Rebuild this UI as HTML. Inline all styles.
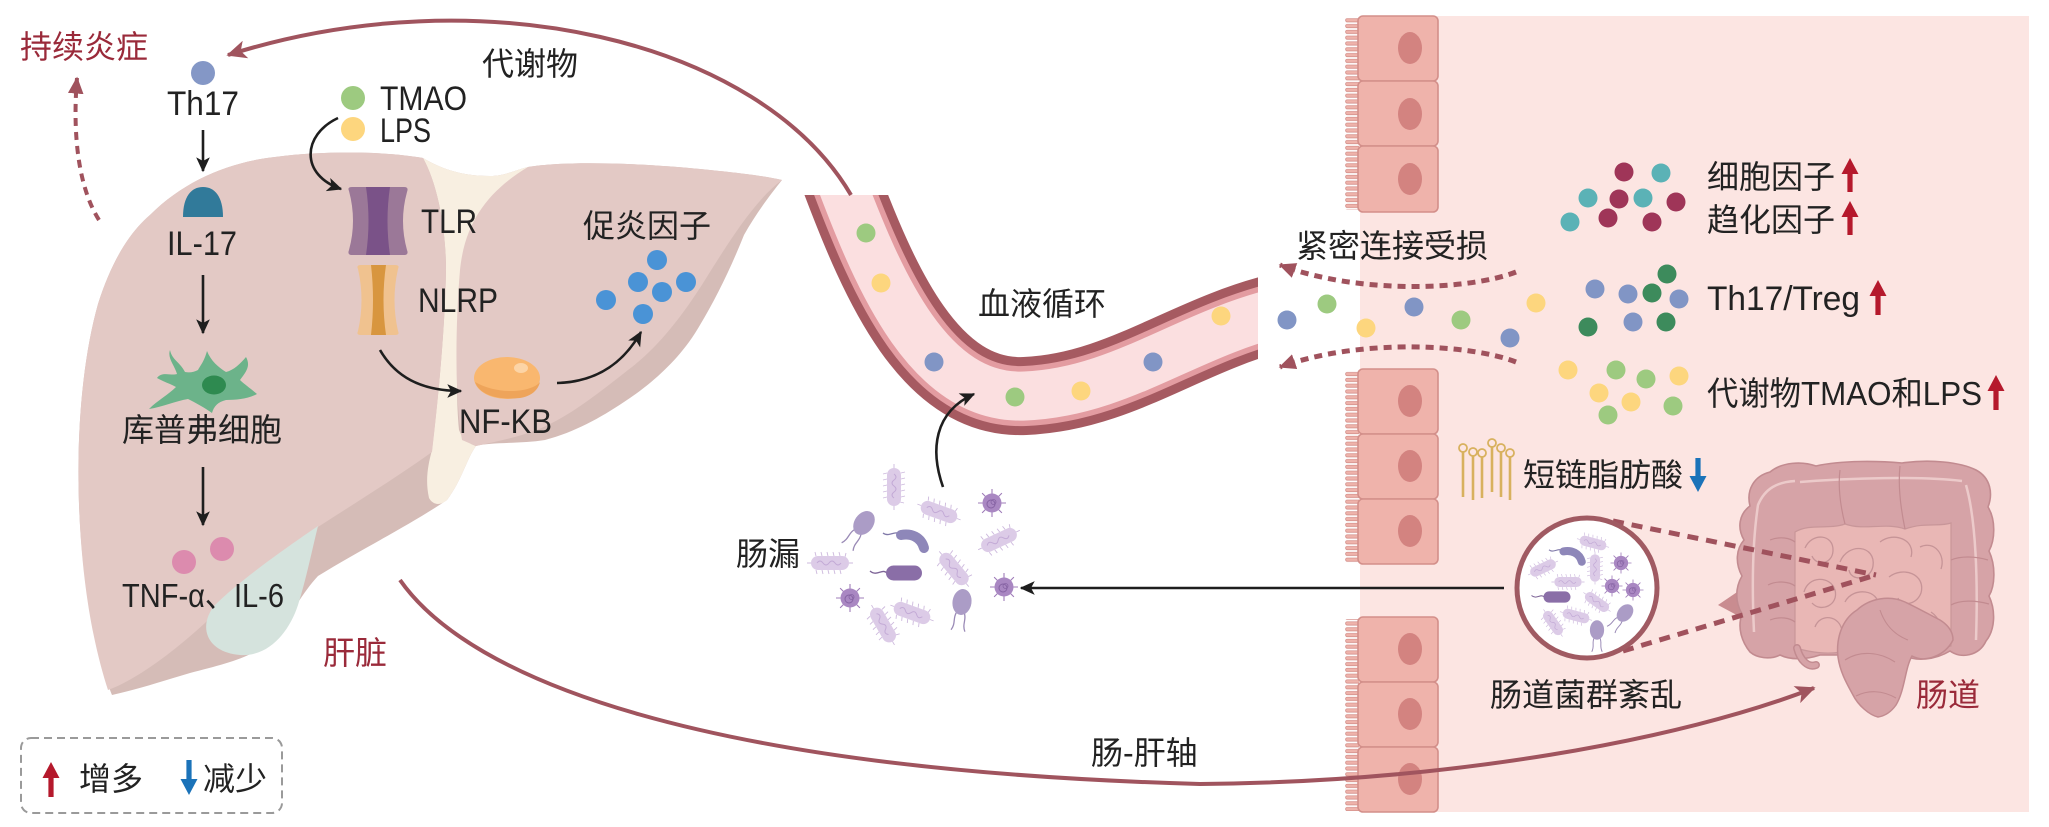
<!DOCTYPE html>
<html><head><meta charset="utf-8"><style>
html,body{margin:0;padding:0;background:#fff;}
svg{display:block;}
text{font-family:"Liberation Sans","Noto Sans CJK SC",sans-serif;fill:#222;}
</style></head><body>
<svg width="2049" height="827" viewBox="0 0 2049 827" xmlns="http://www.w3.org/2000/svg">
<defs>
<marker id="mk" viewBox="0 0 12 12" refX="11" refY="6" markerWidth="15" markerHeight="15" markerUnits="userSpaceOnUse" orient="auto"><path d="M0,0.5 L12,6 L0,11.5 L3,6 Z" fill="#1e1e1e"/></marker>
<marker id="mr" viewBox="0 0 12 12" refX="11" refY="6" markerWidth="20" markerHeight="20" markerUnits="userSpaceOnUse" orient="auto"><path d="M0,0.5 L12,6 L0,11.5 L3,6 Z" fill="#a0545e"/></marker>
<marker id="md" viewBox="0 0 12 12" refX="11" refY="6" markerWidth="17" markerHeight="17" markerUnits="userSpaceOnUse" orient="auto"><path d="M0,0.5 L12,6 L0,11.5 Z" fill="#a0525d"/></marker>
<pattern id="vil" x="1345" y="0" width="16" height="5.8" patternUnits="userSpaceOnUse"><rect x="0.6" y="1.2" width="16" height="3.3" rx="1.6" fill="#efb3ab" stroke="#d38f8a" stroke-width="0.8"/></pattern>
<g id="rod">
<g stroke="#cdb9dd" stroke-width="0.9"><path d="M-14,-7 l-1,-4 M-8,-7 l-1,-4 M-2,-7 l-1,-4 M4,-7 l-1,-4 M10,-7 l-1,-4 M15,-6 l1,-4 M-14,7 l1,4 M-8,7 l1,4 M-2,7 l1,4 M4,7 l1,4 M10,7 l1,4 M-19,0 l-4,0 M19,0 l4,0"/></g>
<rect x="-19" y="-7" width="38" height="14" rx="7" fill="#dccbe7"/>
<path d="M-13,0 q3,-4 6,0 t6,0 t6,0 t6,0" stroke="#c3aad6" fill="none" stroke-width="1"/>
</g>
<g id="coc">
<g stroke="#9f7cb9" stroke-width="1.1"><path d="M0,-9 l0,-5 M0,9 l0,5 M-9,0 l-5,0 M9,0 l5,0 M6.4,6.4 l3.5,3.5 M-6.4,-6.4 l-3.5,-3.5 M6.4,-6.4 l3.5,-3.5 M-6.4,6.4 l-3.5,3.5"/></g>
<circle r="9.5" fill="#a987c2"/><circle r="4" cx="-1" cy="1" fill="none" stroke="#8663a3" stroke-width="1"/><circle r="2.5" cx="1.5" cy="-1" fill="none" stroke="#8663a3" stroke-width="0.8"/>
</g>
<g id="drod"><path d="M-17,0 C-22,-5 -27,4 -34,-2" stroke="#7d6497" fill="none" stroke-width="1.4"/><rect x="-18" y="-7.5" width="36" height="15" rx="7.5" fill="#8a6ea7"/></g>
<g id="crod"><path d="M-12,-7 C-18,-13 -24,-4 -30,-9" stroke="#7f78a8" fill="none" stroke-width="1.3"/><path d="M-12,-7 C-2,-9 8,-5 11,6" stroke="#8e87b9" stroke-width="10" stroke-linecap="round" fill="none"/></g>
<g id="ov"><path d="M-4,11 C-7,17 -3,22 -7,29 M4,11 C7,17 3,22 7,29" stroke="#9a8ab6" fill="none" stroke-width="1.3"/><ellipse rx="9.5" ry="13" fill="#ab9cc6"/></g>
<clipPath id="vclip"><rect x="760" y="195" width="498" height="270"/></clipPath>
</defs>

<!-- intestine panel -->
<rect x="1360" y="16" width="669" height="796" fill="#fce5e2"/>

<!-- epithelial cells -->
<g>
<rect x="1345" y="18" width="14" height="192" fill="url(#vil)"/>
<rect x="1345" y="371" width="14" height="192" fill="url(#vil)"/>
<rect x="1345" y="619" width="14" height="192" fill="url(#vil)"/>
<g fill="#efb3ab" stroke="#d38f8a" stroke-width="1.6">
<rect x="1358" y="16" width="80" height="65" rx="5"/>
<rect x="1358" y="81" width="80" height="65" rx="5"/>
<rect x="1358" y="146" width="80" height="66" rx="5"/>
<rect x="1358" y="369" width="80" height="65" rx="5"/>
<rect x="1358" y="434" width="80" height="65" rx="5"/>
<rect x="1358" y="499" width="80" height="65" rx="5"/>
<rect x="1358" y="617" width="80" height="65" rx="5"/>
<rect x="1358" y="682" width="80" height="65" rx="5"/>
<rect x="1358" y="747" width="80" height="65" rx="5"/>
</g>
<g fill="#d38380">
<ellipse cx="1410" cy="48" rx="12" ry="16"/>
<ellipse cx="1410" cy="114" rx="12" ry="16"/>
<ellipse cx="1410" cy="179" rx="12" ry="16"/>
<ellipse cx="1410" cy="401" rx="12" ry="16"/>
<ellipse cx="1410" cy="466" rx="12" ry="16"/>
<ellipse cx="1410" cy="531" rx="12" ry="16"/>
<ellipse cx="1410" cy="649" rx="12" ry="16"/>
<ellipse cx="1410" cy="714" rx="12" ry="16"/>
<ellipse cx="1410" cy="779" rx="12" ry="16"/>
</g>
</g>

<!-- liver -->
<g>
<path d="M112,695 C98,660 82,590 79,504 C76,420 85,350 98,304 C112,260 130,232 150,215 C185,180 230,162 275,157 C330,150 390,152 423,158 C440,168 460,176 490,176 C505,176 515,170 528,167 C570,160 650,164 700,169 C740,173 765,176 782,180 C770,195 755,215 744,235 C730,270 715,300 700,325 C680,360 650,385 624,402 C600,418 575,432 545,440 C520,444 490,442 476,446 C467,458 462,480 447,500 C410,525 360,550 318,576 C300,595 290,620 265,645 C245,660 220,665 190,673 C160,682 135,690 112,695 Z" fill="#d5bcb7"/>
<path d="M423,158 C440,168 460,176 490,176 C505,176 515,170 528,167 L532,172 C495,192 472,218 464,262 C457,320 455,390 459,430 C463,440 470,444 476,446 C467,458 462,480 447,500 C440,506 433,505 429,498 C425,480 428,465 432,450 C438,400 445,330 446,270 C446,230 438,185 423,158 Z" fill="#f8efe1"/>
<path d="M108,690 C95,650 82,590 79,504 C76,420 85,350 98,304 C112,260 130,232 150,215 C185,180 230,162 275,157 C330,150 390,152 423,158 C438,185 446,230 446,270 C445,330 438,400 432,452 C400,475 360,500 318,527 C280,552 240,585 205,623 C170,655 135,680 108,690 Z" fill="#e3c9c5"/>
<path d="M528,167 C570,160 650,164 700,169 C740,173 765,176 782,180 C755,200 730,240 705,280 C680,320 655,350 628,370 C600,392 575,412 548,425 C530,434 505,440 476,446 L462,440 C455,400 455,330 460,270 C465,220 490,190 528,167 Z" fill="#e3c9c5"/>
<path d="M318,526 C290,545 240,580 215,605 C198,625 205,652 240,655 C270,657 290,630 298,605 C306,580 312,550 318,526 Z" fill="#d5e3dd"/>
</g>

<!-- liver contents -->
<circle cx="203" cy="73" r="12" fill="#8497c6"/>
<path d="M183,217 C183,197 191,187 203,187 C215,187 223,197 223,217 Z" fill="#317a9a"/>
<path d="M185,372 C180,362 172,360 170,350 C167,358 175,366 177,374 C171,376 162,371 157,378 C164,382 171,384 176,387 C168,395 158,400 149,409 C162,407 176,401 188,399 C196,403 205,408 212,413 C214,406 218,402 226,400 C236,400 248,399 257,394 C250,388 244,384 240,380 C246,372 251,366 246,357 C240,364 234,370 226,372 C218,367 211,361 207,351 C204,362 200,366 198,370 C194,372 190,373 185,372 Z" fill="#6cb38a"/>
<ellipse cx="214" cy="385" rx="12" ry="9.5" fill="#2e8a50"/>
<circle cx="184" cy="562" r="12" fill="#dc8bae"/>
<circle cx="222" cy="549" r="12" fill="#dc8bae"/>
<circle cx="353" cy="98" r="12" fill="#9dca80"/>
<circle cx="353" cy="129" r="12" fill="#fdd67e"/>
<path d="M349,191 Q347,187 352,187 L404,187 Q409,187 407,192 Q399,221 407,250 Q409,255 404,255 L352,255 Q347,255 349,250 Q357,221 349,191 Z" fill="#9b7898"/>
<path d="M366,187 L390,187 Q385,221 390,255 L366,255 Q371,221 366,187 Z" fill="#7a5288"/>
<path d="M358,269 Q356,265 361,265 L395,265 Q400,265 398,269 Q391,300 398,331 Q400,335 395,335 L361,335 Q356,335 358,331 Q365,300 358,269 Z" fill="#f0c28f"/>
<path d="M371,265 L386,265 Q381,300 386,335 L371,335 Q375,300 371,265 Z" fill="#d8963f"/>
<ellipse cx="507" cy="378" rx="33" ry="21" fill="#f9b76f"/>
<path d="M475,382 C480,396 500,400 520,398 C532,396 538,390 540,382 C532,392 500,396 475,382 Z" fill="#eea45a"/>
<ellipse cx="521" cy="368" rx="7" ry="5" fill="#fcd4a6"/>
<g fill="#4a93d6">
<circle cx="657" cy="260" r="10"/><circle cx="638" cy="282" r="10"/><circle cx="686" cy="282" r="10"/><circle cx="662" cy="292" r="10"/><circle cx="606" cy="300" r="10"/><circle cx="643" cy="314" r="10"/>
</g>

<!-- liver arrows -->
<g stroke="#1e1e1e" stroke-width="2.6" fill="none" marker-end="url(#mk)">
<path d="M203,130 L203,171"/>
<path d="M203,275 L203,333"/>
<path d="M203,467 L203,525"/>
<path d="M338,118 C302,135 300,175 341,189"/>
<path d="M380,350 C395,376 420,391 461,391"/>
<path d="M557,383 C600,382 625,360 641,332"/>
<path d="M1504,588 L1021,588"/>
</g>

<!-- gut -->
<g>
<path d="M1718,605 L1746,586 L1746,620 Z" fill="#c98c90"/>
<path d="M1750,652 C1742,642 1737,628 1742,614 C1735,602 1735,588 1742,576 C1735,563 1736,549 1744,540 C1737,528 1739,514 1750,506 C1746,490 1754,476 1770,472 C1782,462 1802,461 1816,466 C1842,460 1880,461 1902,463 C1930,459 1960,462 1976,470 C1991,478 1993,494 1988,507 C1996,520 1995,540 1989,551 C1996,566 1995,586 1989,596 C1996,611 1995,630 1986,641 C1979,656 1961,659 1950,651 C1935,660 1915,662 1905,655 L1820,655 C1805,660 1790,660 1780,655 C1770,660 1757,658 1750,652 Z" fill="#d6a3a7" stroke="#c28b90" stroke-width="1.6"/>
<path d="M1795,648 L1795,532 C1810,523 1828,530 1845,524 C1865,531 1885,522 1905,529 C1925,522 1940,527 1951,523 L1951,646 C1935,650 1915,650 1905,646 L1850,650 C1830,656 1810,652 1795,648 Z" fill="#e9b7b5" stroke="#c89699" stroke-width="1.2"/>
<g fill="none" stroke="#c69497" stroke-width="1.3">
<path d="M1805,548 C1812,532 1834,534 1833,551 C1832,565 1816,566 1812,556"/>
<path d="M1840,562 C1848,542 1876,545 1873,566 C1871,580 1851,582 1849,570"/>
<path d="M1880,542 C1894,531 1916,540 1911,557"/>
<path d="M1804,592 C1808,576 1830,575 1835,590 C1839,605 1821,613 1812,603"/>
<path d="M1845,602 C1853,586 1880,590 1878,606"/>
<path d="M1889,577 C1903,566 1926,574 1921,593 C1916,606 1901,606 1898,598"/>
<path d="M1920,547 C1934,540 1946,555 1941,569"/>
<path d="M1815,627 C1820,613 1840,615 1842,631"/>
<path d="M1931,612 C1940,618 1944,630 1938,640"/>
</g>
<g fill="none" stroke="#eccaca" stroke-width="2.5">
<path d="M1754,632 C1752,590 1752,545 1758,505 C1765,488 1778,482 1795,481"/>
<path d="M1800,482 C1850,478 1920,476 1962,481"/>
<path d="M1966,485 C1976,520 1978,580 1976,640"/>
</g>
<g fill="none" stroke="#c28b90" stroke-width="1.2">
<path d="M1770,540 C1780,536 1790,538 1795,542 M1768,585 C1778,580 1790,582 1795,586 M1770,620 C1780,616 1790,618 1795,622"/>
<path d="M1840,470 C1838,485 1840,505 1845,524 M1900,466 C1898,485 1900,505 1905,529"/>
<path d="M1951,560 C1960,556 1975,556 1988,560 M1951,605 C1960,600 1975,600 1989,604"/>
</g>
<path d="M1797,648 C1800,660 1808,668 1816,665" fill="none" stroke="#c28b90" stroke-width="8" stroke-linecap="round"/>
<path d="M1797,648 C1800,660 1808,668 1816,665" fill="none" stroke="#d6a3a7" stroke-width="5" stroke-linecap="round"/>
<path d="M1953,640 C1945,656 1925,663 1912,656 C1905,668 1905,690 1896,705 C1891,712 1885,716 1878,717 C1869,715 1858,705 1853,695 C1847,684 1840,672 1838,657 C1836,640 1841,620 1857,610 C1870,598 1890,595 1905,602 C1918,608 1930,615 1940,620 C1948,625 1953,632 1953,640 Z" fill="#d6a3a7" stroke="#c28b90" stroke-width="1.5"/>
<path d="M1845,660 C1860,650 1880,652 1895,662 M1856,696 C1868,690 1882,690 1896,698 M1880,610 C1885,625 1895,635 1908,640" fill="none" stroke="#c28b90" stroke-width="1.1"/>
</g>

<!-- SCFA icon -->
<g stroke="#d8b15e" stroke-width="2.6" fill="none">
<path d="M1463,452 L1463,497 M1473,456 L1473,500 M1482,457 L1482,498 M1492,447 L1492,492 M1501,452 L1501,497 M1510,457 L1510,500"/>
<g stroke-width="1.8" fill="#fce5e2"><circle cx="1463" cy="448" r="4"/><circle cx="1473" cy="452" r="4"/><circle cx="1482" cy="453" r="4"/><circle cx="1492" cy="443" r="4"/><circle cx="1501" cy="448" r="4"/><circle cx="1510" cy="453" r="4"/></g>
</g>

<!-- dashed lines to gut -->
<g stroke="#a0525d" stroke-width="5" stroke-dasharray="11 8" fill="none">
<path d="M1613,521 L1876,575"/>
<path d="M1623,651 L1876,575"/>
</g>

<!-- microbiota circle -->
<circle cx="1587" cy="588" r="70" fill="#fff" stroke="#a05a62" stroke-width="5"/>
<use href="#rod" transform="translate(1593,543) rotate(15) scale(0.72)"/>
<use href="#crod" transform="translate(1573,557) scale(0.8)"/>
<use href="#rod" transform="translate(1543,568) rotate(-25) scale(0.72)"/>
<use href="#rod" transform="translate(1595,568) rotate(90) scale(0.72)"/>
<use href="#coc" transform="translate(1621,563) scale(0.75)"/>
<use href="#rod" transform="translate(1568,582) scale(0.72)"/>
<use href="#coc" transform="translate(1612,586) scale(0.75)"/>
<use href="#coc" transform="translate(1633,590) scale(0.75)"/>
<use href="#drod" transform="translate(1557,597) scale(0.75)"/>
<use href="#rod" transform="translate(1597,602) rotate(35) scale(0.72)"/>
<use href="#rod" transform="translate(1553,623) rotate(55) scale(0.72)"/>
<use href="#rod" transform="translate(1576,616) rotate(15) scale(0.72)"/>
<use href="#ov" transform="translate(1625,613) rotate(40) scale(0.75)"/>
<use href="#ov" transform="translate(1597,630) scale(0.75)"/>

<!-- leaked bacteria -->
<use href="#rod" transform="translate(894,487) rotate(90)"/>
<use href="#rod" transform="translate(939,512) rotate(20)"/>
<use href="#coc" transform="translate(992,503)"/>
<use href="#ov" transform="translate(864,523) rotate(35)"/>
<use href="#crod" transform="translate(913,542)"/>
<use href="#rod" transform="translate(999,540) rotate(-25)"/>
<use href="#rod" transform="translate(830,563)"/>
<use href="#drod" transform="translate(904,573)"/>
<use href="#rod" transform="translate(954,569) rotate(50)"/>
<use href="#coc" transform="translate(1004,587)"/>
<use href="#coc" transform="translate(850,598)"/>
<use href="#rod" transform="translate(912,613) rotate(20)"/>
<use href="#rod" transform="translate(883,625) rotate(60)"/>
<use href="#ov" transform="translate(962,602) rotate(8)"/>

<!-- blood vessel -->
<g clip-path="url(#vclip)" fill="none">
<path d="M839,176 C880,285 930,400 1025,396 C1120,392 1185,335 1280,312" stroke="#a65a61" stroke-width="78"/>
<path d="M839,176 C880,285 930,400 1025,396 C1120,392 1185,335 1280,312" stroke="#e39ca1" stroke-width="60"/>
<path d="M839,176 C880,285 930,400 1025,396 C1120,392 1185,335 1280,312" stroke="#fbdfe0" stroke-width="49"/>
</g>
<circle cx="866" cy="233" r="9.5" fill="#9dca80"/>
<circle cx="881" cy="283" r="9.5" fill="#fdd67e"/>
<circle cx="934" cy="362" r="9.5" fill="#8195c5"/>
<circle cx="1015" cy="397" r="9.5" fill="#9dca80"/>
<circle cx="1081" cy="391" r="9.5" fill="#fdd67e"/>
<circle cx="1153" cy="362" r="9.5" fill="#8195c5"/>
<circle cx="1221" cy="316" r="9.5" fill="#fdd67e"/>
<path d="M943,487 C930,450 934,412 974,394" stroke="#1e1e1e" stroke-width="2.6" fill="none" marker-end="url(#mk)"/>

<!-- gap dots -->
<circle cx="1287" cy="320" r="9.5" fill="#8195c5"/>
<circle cx="1327" cy="304" r="9.5" fill="#9dca80"/>
<circle cx="1366" cy="328" r="9.5" fill="#fdd67e"/>
<circle cx="1414" cy="307" r="9.5" fill="#8195c5"/>
<circle cx="1461" cy="320" r="9.5" fill="#9dca80"/>
<circle cx="1510" cy="338" r="9.5" fill="#8195c5"/>
<circle cx="1536" cy="303" r="9.5" fill="#fdd67e"/>

<!-- clusters -->
<g>
<circle cx="1624" cy="172" r="9.5" fill="#9f3558"/><circle cx="1661" cy="173" r="9.5" fill="#5bb2b6"/>
<circle cx="1588" cy="198" r="9.5" fill="#5bb2b6"/><circle cx="1619" cy="199" r="9.5" fill="#9f3558"/>
<circle cx="1643" cy="198" r="9.5" fill="#5bb2b6"/><circle cx="1676" cy="202" r="9.5" fill="#9f3558"/>
<circle cx="1570" cy="222" r="9.5" fill="#5bb2b6"/><circle cx="1608" cy="218" r="9.5" fill="#9f3558"/>
<circle cx="1652" cy="222" r="9.5" fill="#9f3558"/>
<circle cx="1667" cy="274" r="9.5" fill="#3d8b5c"/><circle cx="1595" cy="289" r="9.5" fill="#8195c5"/>
<circle cx="1628" cy="294" r="9.5" fill="#8195c5"/><circle cx="1652" cy="293" r="9.5" fill="#3d8b5c"/>
<circle cx="1679" cy="299" r="9.5" fill="#8195c5"/><circle cx="1588" cy="327" r="9.5" fill="#3d8b5c"/>
<circle cx="1633" cy="322" r="9.5" fill="#8195c5"/><circle cx="1666" cy="322" r="9.5" fill="#3d8b5c"/>
<circle cx="1568" cy="370" r="9.5" fill="#fdd67e"/><circle cx="1616" cy="370" r="9.5" fill="#9dca80"/>
<circle cx="1646" cy="379" r="9.5" fill="#9dca80"/><circle cx="1679" cy="376" r="9.5" fill="#fdd67e"/>
<circle cx="1599" cy="393" r="9.5" fill="#fdd67e"/><circle cx="1631" cy="402" r="9.5" fill="#fdd67e"/>
<circle cx="1608" cy="415" r="9.5" fill="#9dca80"/><circle cx="1673" cy="406" r="9.5" fill="#9dca80"/>
</g>

<!-- dashed arrows -->
<g stroke="#a0525d" stroke-width="5" stroke-dasharray="8 6" fill="none" marker-end="url(#md)">
<path d="M1516,272 C1470,290 1360,295 1280,265"/>
<path d="M1516,362 C1470,344 1360,338 1280,367"/>
<path d="M99,220 C80,190 72,140 77,78" stroke-width="4"/>
</g>

<!-- red arcs -->
<g stroke="#a0545e" stroke-width="4" fill="none" marker-end="url(#mr)">
<path d="M851,195 C760,40 480,-25 228,55"/>
<path d="M400,580 C470,680 700,770 1200,784 C1450,782 1680,740 1814,688"/>
</g>

<!-- up/down arrows -->
<g fill="#b5192c">
<path d="M1850,158 L1858.5,174 L1852.6,174 L1852.6,192 L1847.4,192 L1847.4,174 L1841.5,174 Z"/>
<path d="M1850,201 L1858.5,217 L1852.6,217 L1852.6,235 L1847.4,235 L1847.4,217 L1841.5,217 Z"/>
<path d="M1878,280 L1886.5,296 L1880.6,296 L1880.6,315 L1875.4,315 L1875.4,296 L1869.5,296 Z"/>
<path d="M1996,375 L2004.5,391 L1998.6,391 L1998.6,410 L1993.4,410 L1993.4,391 L1987.5,391 Z"/>
<path d="M51,762 L59.5,778 L53.6,778 L53.6,797 L48.4,797 L48.4,778 L42.5,778 Z"/>
</g>
<g fill="#1b73b9">
<path d="M1698,492 L1706.5,476 L1700.6,476 L1700.6,458 L1695.4,458 L1695.4,476 L1689.5,476 Z"/>
<path d="M189,795 L197.5,779 L191.6,779 L191.6,760 L186.4,760 L186.4,779 L180.5,779 Z"/>
</g>

<!-- legend box -->
<rect x="21" y="738" width="261" height="75" rx="10" fill="none" stroke="#9a9a9a" stroke-width="2" stroke-dasharray="8 5"/>

<!-- text -->
<g font-size="32">
<text x="20" y="58" style="fill:#9a2a3a">持续炎症</text>
<text x="167" y="115" font-size="34" textLength="72" lengthAdjust="spacingAndGlyphs">Th17</text>
<text x="167" y="255" font-size="34" textLength="70" lengthAdjust="spacingAndGlyphs">IL-17</text>
<text x="122" y="441">库普弗细胞</text>
<text x="122" y="607" font-size="33" textLength="162" lengthAdjust="spacingAndGlyphs">TNF-α、IL-6</text>
<text x="323" y="664" style="fill:#9a2a3a">肝脏</text>
<text x="380" y="110" font-size="34" textLength="87" lengthAdjust="spacingAndGlyphs">TMAO</text>
<text x="380" y="142" font-size="34" textLength="51" lengthAdjust="spacingAndGlyphs">LPS</text>
<text x="482" y="75">代谢物</text>
<text x="421" y="233" font-size="34" textLength="56" lengthAdjust="spacingAndGlyphs">TLR</text>
<text x="418" y="312" font-size="34" textLength="80" lengthAdjust="spacingAndGlyphs">NLRP</text>
<text x="459" y="433" font-size="34" textLength="93" lengthAdjust="spacingAndGlyphs">NF-KB</text>
<text x="583" y="237">促炎因子</text>
<text x="978" y="315">血液循环</text>
<text x="1296" y="257">紧密连接受损</text>
<text x="1707" y="188">细胞因子</text>
<text x="1707" y="231">趋化因子</text>
<text x="1707" y="310" font-size="34" textLength="153" lengthAdjust="spacingAndGlyphs">Th17/Treg</text>
<text x="1707" y="405" font-size="33" textLength="275" lengthAdjust="spacingAndGlyphs">代谢物TMAO和LPS</text>
<text x="1523" y="486">短链脂肪酸</text>
<text x="736" y="565">肠漏</text>
<text x="1490" y="706">肠道菌群紊乱</text>
<text x="1916" y="706" style="fill:#9a2a3a">肠道</text>
<text x="1091" y="764">肠-肝轴</text>
<text x="79" y="790">增多</text>
<text x="203" y="790">减少</text>
</g>
</svg>
</body></html>
